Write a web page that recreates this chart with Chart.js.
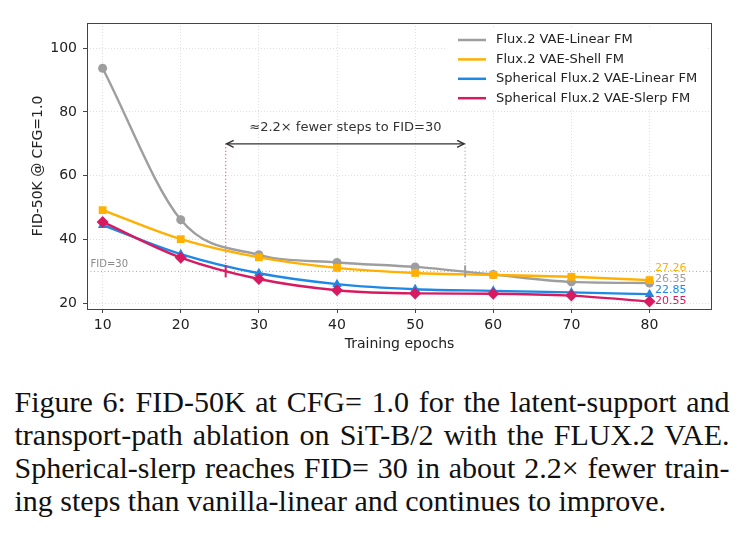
<!DOCTYPE html>
<html><head><meta charset="utf-8">
<script src="https://cdn.jsdelivr.net/npm/chart.js@4/dist/chart.umd.min.js"></script>
<style>
html,body{margin:0;padding:0;background:#fff;width:749px;height:533px;overflow:hidden;}
#wrap{position:relative;width:749px;height:533px;}
canvas{position:absolute;left:0;top:0;}
#cap{position:absolute;left:14.5px;top:385px;width:715px;font-family:"Liberation Serif","Times New Roman",serif;font-size:30px;line-height:33px;color:#111;}
#cap div{text-align:justify;text-align-last:justify;}
#cap div.last{text-align:left;text-align-last:left;}
</style></head>
<body><div id="wrap"><canvas id="c" width="749" height="360" style="width:749px;height:360px"></canvas>
<div id="cap">
<div>Figure 6: FID-50K at CFG= 1.0 for the latent-support and</div>
<div>transport-path ablation on SiT-B/2 with the FLUX.2 VAE.</div>
<div>Spherical-slerp reaches FID= 30 in about 2.2× fewer train-</div>
<div class="last">ing steps than vanilla-linear and continues to improve.</div>
</div></div>
<script>
// ---- data ----
const epochs = [10, 20, 30, 40, 50, 60, 70, 80];
const fluxLinear = [93.7, 46.2, 35.2, 32.8, 31.4, 29.0, 26.7, 26.35];
const fluxShell = [49.2, 40.1, 34.4, 31.1, 29.5, 28.9, 28.3, 27.26];
const sphLinear = [44.5, 35.4, 29.4, 26.0, 24.4, 23.9, 23.4, 22.85];
const sphSlerp = [45.5, 34.3, 27.6, 24.1, 23.1, 23.0, 22.4, 20.55];
const seriesLabels = ['Flux.2 VAE-Linear FM', 'Flux.2 VAE-Shell FM', 'Spherical Flux.2 VAE-Linear FM', 'Spherical Flux.2 VAE-Slerp FM'];
const xTicks = [10, 20, 30, 40, 50, 60, 70, 80];
const yTicks = [20, 40, 60, 80, 100];
const fidTarget = 30;
const crossSlerp = 25.75;   // epoch where slerp reaches FID=30
const crossLinear = 56.4;   // epoch where vanilla linear reaches FID=30
const arrowLevel = 70;
const speedupText = '≈2.2× fewer steps to FID=30';
const targetLabel = 'FID=30';

const colors = ['#9e9e9e', '#FFB000', '#1E88E5', '#D81B60'];
const styles = ['circle', 'rect', 'triangle', 'rectRot'];
const radii = [4.5, 5.5, 5.5, 6];
const allSeries = [fluxLinear, fluxShell, sphLinear, sphSlerp];
const FONT = '"DejaVu Sans", sans-serif';

const datasets = allSeries.map((s, i) => ({
  label: seriesLabels[i],
  data: epochs.map((e, j) => ({x: e, y: s[j]})),
  borderColor: colors[i],
  backgroundColor: colors[i],
  borderWidth: 2.4,
  pointStyle: styles[i],
  pointRadius: radii[i],
  pointBorderWidth: 0,
  cubicInterpolationMode: 'monotone',
  order: 4 - i
}));

const overlay = {
  id: 'overlay',
  beforeDatasetsDraw(chart) {
    const {ctx, chartArea: a, scales: {x, y}} = chart;
    ctx.save();
    const yt = y.getPixelForValue(fidTarget);
    ctx.strokeStyle = 'rgba(140,140,140,0.8)';
    ctx.lineWidth = 1;
    ctx.setLineDash([1, 2.5]);
    ctx.beginPath(); ctx.moveTo(a.left, yt); ctx.lineTo(a.right, yt); ctx.stroke();
    const ya = y.getPixelForValue(arrowLevel);
    ctx.lineWidth = 1.3;
    ctx.strokeStyle = 'rgba(216,27,96,0.75)';
    const xs = x.getPixelForValue(crossSlerp), xl = x.getPixelForValue(crossLinear);
    ctx.beginPath(); ctx.moveTo(xs, ya); ctx.lineTo(xs, yt); ctx.stroke();
    ctx.strokeStyle = 'rgba(150,150,150,0.85)';
    ctx.beginPath(); ctx.moveTo(xl, ya); ctx.lineTo(xl, yt); ctx.stroke();
    ctx.setLineDash([]);
    ctx.fillStyle = '#8a8a8a';
    ctx.font = '10px ' + FONT;
    ctx.textAlign = 'left'; ctx.textBaseline = 'middle';
    ctx.fillText(targetLabel, a.left + 3.5, yt - 7);
    ctx.restore();
  },
  afterDatasetsDraw(chart) {
    const {ctx, chartArea: a, scales: {x, y}} = chart;
    ctx.save();
    const yt = y.getPixelForValue(fidTarget);
    const ya = y.getPixelForValue(arrowLevel);
    const xs = x.getPixelForValue(crossSlerp), xl = x.getPixelForValue(crossLinear);
    ctx.lineWidth = 2;
    ctx.strokeStyle = colors[3];
    ctx.beginPath(); ctx.moveTo(xs, yt - 6); ctx.lineTo(xs, yt + 6); ctx.stroke();
    ctx.strokeStyle = colors[0];
    ctx.beginPath(); ctx.moveTo(xl, yt - 6); ctx.lineTo(xl, yt + 6); ctx.stroke();
    ctx.strokeStyle = '#333';
    ctx.lineWidth = 1.4;
    ctx.beginPath(); ctx.moveTo(xs + 1, ya); ctx.lineTo(xl - 1, ya); ctx.stroke();
    ctx.beginPath();
    ctx.moveTo(xs + 8, ya - 3.5); ctx.lineTo(xs + 1, ya); ctx.lineTo(xs + 8, ya + 3.5);
    ctx.moveTo(xl - 8, ya - 3.5); ctx.lineTo(xl - 1, ya); ctx.lineTo(xl - 8, ya + 3.5);
    ctx.stroke();
    ctx.fillStyle = '#333';
    ctx.font = '13px ' + FONT;
    ctx.textAlign = 'center'; ctx.textBaseline = 'middle';
    ctx.fillText(speedupText, (xs + xl) / 2, ya - 16);
    const items = allSeries.map((s, i) => ({i, v: s[s.length - 1], py: y.getPixelForValue(s[s.length - 1])}));
    items.sort((p, q) => q.py - p.py);
    for (let k = 1; k < items.length; k++) {
      if (items[k].py > items[k - 1].py - 11) items[k].py = items[k - 1].py - 11;
    }
    ctx.font = '11px ' + FONT;
    ctx.textAlign = 'left';
    const xe = x.getPixelForValue(epochs[epochs.length - 1]) + 5.5;
    items.forEach(it => { ctx.fillStyle = colors[it.i]; ctx.fillText(it.v.toFixed(2), xe, it.py); });
    ctx.restore();
  },
  afterDraw(chart) {
    const {ctx, chartArea: a} = chart;
    ctx.save();
    const bx = a.right - 266, by = a.top + 5;
    ctx.fillStyle = 'rgba(255,255,255,0.92)';
    ctx.beginPath(); ctx.roundRect(bx, by, 260, 81, 3); ctx.fill();
    ctx.font = '13px ' + FONT;
    ctx.textAlign = 'left'; ctx.textBaseline = 'middle';
    chart.data.datasets.forEach((d, i) => {
      const ry = by + 12 + i * 19.4;
      ctx.strokeStyle = d.borderColor; ctx.lineWidth = 2.5;
      ctx.beginPath(); ctx.moveTo(bx + 12, ry); ctx.lineTo(bx + 40, ry); ctx.stroke();
      ctx.fillStyle = '#222';
      ctx.fillText(d.label, bx + 50, ry);
    });
    ctx.strokeStyle = '#444'; ctx.lineWidth = 1;
    ctx.strokeRect(Math.round(a.left) + 0.5, Math.round(a.top) + 0.5, Math.round(a.right - a.left) - 1, Math.round(a.bottom - a.top));
    ctx.restore();
  }
};

new Chart(document.getElementById('c'), {
  type: 'line',
  data: {datasets},
  options: {
    responsive: false,
    animation: false,
    devicePixelRatio: 1,
    layout: {padding: {top: 23, right: 37, left: 0, bottom: 0}},
    plugins: {legend: {display: false}, tooltip: {enabled: false}},
    scales: {
      x: {
        type: 'linear', min: 8, max: 88,
        afterBuildTicks: s => { s.ticks = xTicks.map(v => ({value: v})); },
        afterFit: s => { s.height = 360 - 309; },
        grid: {color: 'rgba(0,0,0,0.13)', lineWidth: 1, tickColor: '#444', tickLength: 4, tickWidth: 1, tickBorderDash: []},
        border: {display: false, dash: [1, 2]},
        ticks: {font: {family: FONT, size: 14}, color: '#222', padding: 4, maxRotation: 0, autoSkip: false},
        title: {display: true, text: 'Training epochs', font: {family: FONT, size: 14}, color: '#222', padding: {top: 0, bottom: 7.6}}
      },
      y: {
        type: 'linear', min: 18.2, max: 107.9,
        afterBuildTicks: s => { s.ticks = yTicks.map(v => ({value: v})); },
        afterFit: s => { s.width = 87; },
        grid: {color: 'rgba(0,0,0,0.13)', lineWidth: 1, tickColor: '#444', tickLength: 4, tickWidth: 1, tickBorderDash: []},
        border: {display: false, dash: [1, 2]},
        ticks: {font: {family: FONT, size: 14}, color: '#222', padding: 6, autoSkip: false},
        title: {display: true, text: 'FID-50K @ CFG=1.0', font: {family: FONT, size: 14}, color: '#222', padding: {top: 29.6, bottom: 0}}
      }
    }
  },
  plugins: [overlay]
});
</script>
</body></html>
